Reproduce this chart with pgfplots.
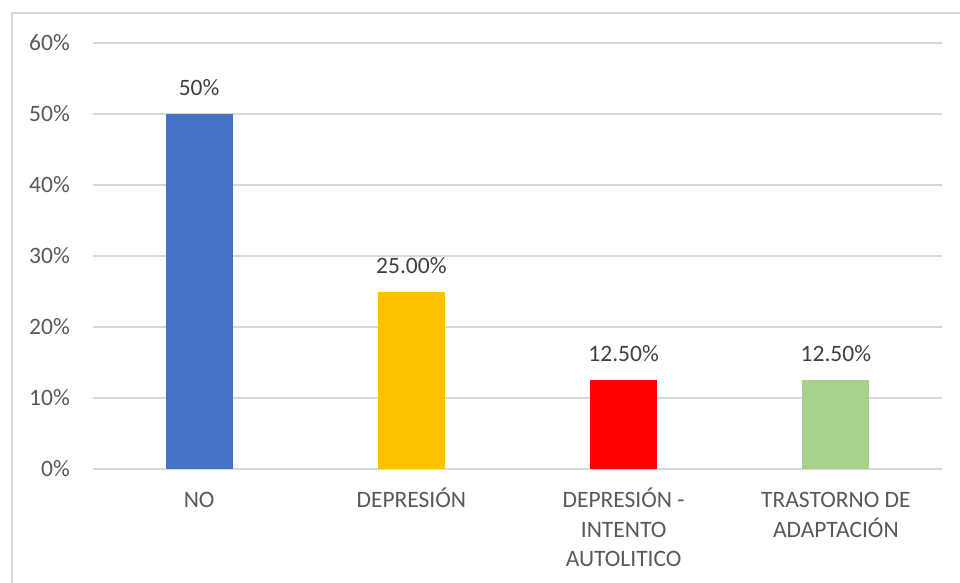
\documentclass[border=0pt]{standalone}
\usepackage{pgfplots}
\pgfplotsset{compat=1.18}
\usepackage{fontspec}
\setmainfont{Carlito}
\definecolor{cblue}{HTML}{4472C4}
\definecolor{cgold}{HTML}{FFC000}
\definecolor{cred}{HTML}{FF0000}
\definecolor{cgreen}{HTML}{A9D18E}
\definecolor{gridc}{HTML}{D9D9D9}
\definecolor{txt}{HTML}{595959}
\definecolor{dtxt}{HTML}{404040}
\begin{document}
\begin{tikzpicture}
\path[use as bounding box] (-93pt,-113pt) rectangle (867pt,469pt);
\draw[gridc, line width=2pt] (-81pt,-120pt) -- (-81pt,456pt) -- (880pt,456pt);
\begin{axis}[
  scale only axis,
  width=849pt, height=426pt,
  xmin=-0.5, xmax=3.5,
  ymin=0, ymax=60,
  ytick={0,10,...,60},
  yticklabel={\pgfmathprintnumber{\tick}\%},
  xtick={0,1,2,3},
  xticklabels={{\vphantom{Ó}NO},{\vphantom{Ó}DEPRESIÓN},{\vphantom{Ó}DEPRESIÓN -\\INTENTO\\AUTOLITICO},{\vphantom{Ó}TRASTORNO DE\\ADAPTACIÓN}},
  /pgf/number format/assume math mode=true,
  axis line style={draw=none},
  major tick length=0pt,
  ymajorgrids=true, xmajorgrids=false,
  y grid style={draw=gridc, line width=1.5pt},
  ticklabel style={font=\fontsize{23.5}{29.5}\selectfont, text=txt},
  yticklabel style={inner sep=0pt, anchor=east, xshift=-23pt},
  xticklabel style={inner sep=0pt, anchor=north, align=center, yshift=-19pt},
  ybar, bar width=67pt, bar shift=0pt,
  nodes near coords style={font=\fontsize{23.5}{28}\selectfont, text=dtxt, inner sep=0pt, anchor=south, yshift=18pt},
  clip=false,
]
\addplot[fill=cblue, draw=none, nodes near coords={50\%}] coordinates {(0,50)};
\addplot[fill=cgold, draw=none, nodes near coords={25.00\%}] coordinates {(1,25)};
\addplot[fill=cred, draw=none, nodes near coords={12.50\%}] coordinates {(2,12.5)};
\addplot[fill=cgreen, draw=none, nodes near coords={12.50\%}] coordinates {(3,12.5)};
\end{axis}
\end{tikzpicture}
\end{document}
